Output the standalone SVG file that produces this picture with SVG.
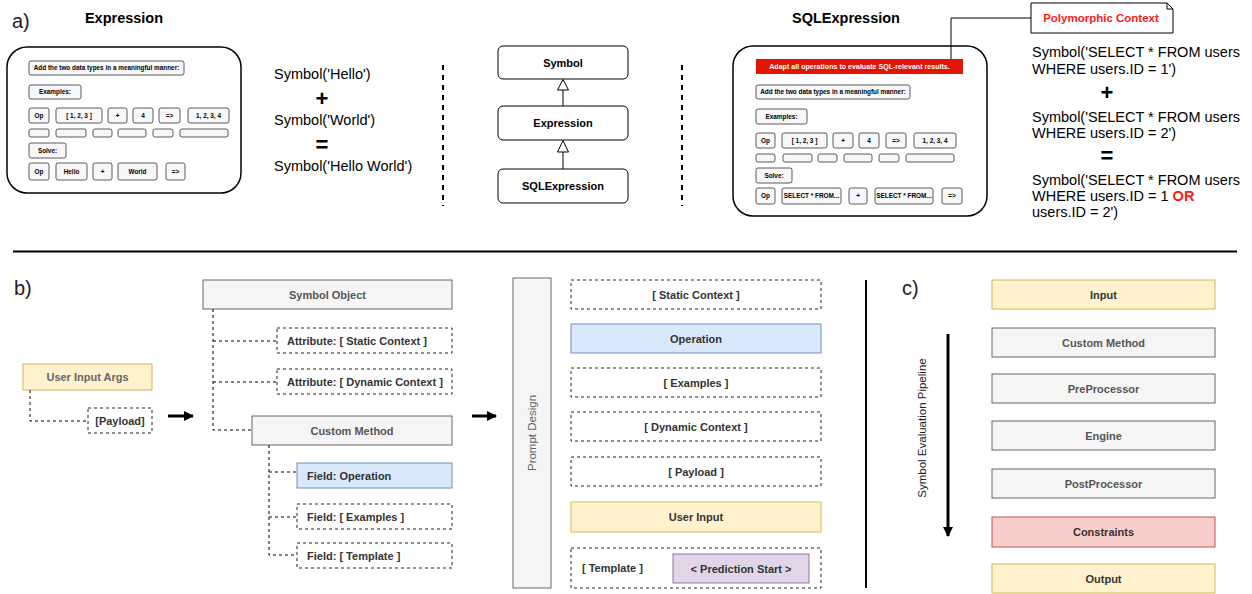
<svg xmlns="http://www.w3.org/2000/svg" width="1252" height="594" viewBox="0 0 1252 594">
<style>
text{font-family:"Liberation Sans",Arial,sans-serif}
.lbl{font-size:20px;fill:#222}
.title{font-size:14.5px;font-weight:bold;fill:#000;text-anchor:middle}
.big{fill:#fff;stroke:#000;stroke-width:1.5}
.sb{fill:#f7f7f7;stroke:#333;stroke-width:0.8}
.st{font-size:6.4px;font-weight:bold;fill:#000;text-anchor:middle}
.expr{font-size:14.5px;fill:#000}
.op{font-size:22px;font-weight:bold;fill:#000;text-anchor:middle}
.cls{fill:#fff;stroke:#000;stroke-width:1}
.ct{font-size:11px;font-weight:bold;fill:#000;text-anchor:middle}
.vdash{stroke:#000;stroke-width:2;stroke-dasharray:5 5;fill:none}
.gray{fill:#f5f5f5;stroke:#666;stroke-width:1}
.dash{fill:#fff;stroke:#222;stroke-width:1;stroke-dasharray:3 3}
.yel{fill:#fff2cc;stroke:#d6b656;stroke-width:1}
.blue{fill:#dae8fc;stroke:#6c8ebf;stroke-width:1}
.red{fill:#f8cecc;stroke:#b85450;stroke-width:1}
.pur{fill:#e1d5e7;stroke:#9673a6;stroke-width:1}
.bt{font-size:11px;font-weight:bold;fill:#333;text-anchor:middle}
.btl{font-size:11px;font-weight:bold;fill:#333}
.gt{font-size:11px;font-weight:bold;fill:#555;text-anchor:middle}
.dot{stroke:#000;stroke-width:1;stroke-dasharray:3 3;fill:none}
.thick{stroke:#000;stroke-width:3;fill:none}
</style>
<defs>
<marker id="ah" viewBox="0 0 10 10" refX="9" refY="5" markerWidth="3.3" markerHeight="3.3" orient="auto" markerUnits="strokeWidth">
<path d="M0,0 L10,5 L0,10 Z" fill="#000"/>
</marker>
</defs>

<!-- section labels -->
<text class="lbl" x="12" y="28">a)</text>
<text class="lbl" x="14" y="295">b)</text>
<text class="lbl" x="902" y="295">c)</text>
<line x1="13" y1="251.5" x2="1237" y2="251.5" stroke="#000" stroke-width="2"/>

<!-- a) Expression prompt box -->
<g id="expression-prompt">
<text class="title" x="124" y="23">Expression</text>
<rect class="big" x="7" y="47" width="234" height="146" rx="20"/>
<rect class="sb" x="29" y="61" width="155" height="14" rx="2"/><text class="st" x="106.5" y="70.2">Add the two data types in a meaningful manner:</text>
<rect class="sb" x="29" y="85" width="52" height="14" rx="2"/><text class="st" x="55" y="94.2">Examples:</text>
<rect class="sb" x="29" y="108" width="20" height="15" rx="2"/><text class="st" x="39" y="117.7">Op</text>
<rect class="sb" x="56" y="108" width="46" height="15" rx="2"/><text class="st" x="79" y="117.7">[ 1, 2, 3 ]</text>
<rect class="sb" x="108" y="108" width="19" height="15" rx="2"/><text class="st" x="117.5" y="117.7">+</text>
<rect class="sb" x="133" y="108" width="20" height="15" rx="2"/><text class="st" x="143" y="117.7">4</text>
<rect class="sb" x="159" y="108" width="21" height="15" rx="2"/><text class="st" x="169.5" y="117.7">=&gt;</text>
<rect class="sb" x="188" y="108" width="41" height="15" rx="2"/><text class="st" x="208.5" y="117.7">1, 2, 3, 4</text>
<rect class="sb" x="29" y="129" width="20" height="8" rx="2"/>
<rect class="sb" x="56" y="129" width="30" height="8" rx="2"/>
<rect class="sb" x="93" y="129" width="19" height="8" rx="2"/>
<rect class="sb" x="118" y="129" width="28" height="8" rx="2"/>
<rect class="sb" x="153" y="129" width="20" height="8" rx="2"/>
<rect class="sb" x="180" y="129" width="48" height="8" rx="2"/>
<rect class="sb" x="29" y="143" width="37" height="15" rx="2"/><text class="st" x="47.5" y="152.7">Solve:</text>
<rect class="sb" x="29" y="163" width="20" height="17" rx="2"/><text class="st" x="39" y="173.7">Op</text>
<rect class="sb" x="56" y="163" width="31" height="17" rx="2"/><text class="st" x="71.5" y="173.7">Hello</text>
<rect class="sb" x="93" y="163" width="19" height="17" rx="2"/><text class="st" x="102.5" y="173.7">+</text>
<rect class="sb" x="118" y="163" width="39" height="17" rx="2"/><text class="st" x="137.5" y="173.7">World</text>
<rect class="sb" x="166" y="163" width="19" height="17" rx="2"/><text class="st" x="175.5" y="173.7">=&gt;</text>
</g>

<g id="hello-world">
<text class="expr" x="274" y="79">Symbol('Hello')</text>
<text class="op" x="322" y="106">+</text>
<text class="expr" x="274" y="125">Symbol('World')</text>
<text class="op" x="322" y="152">=</text>
<text class="expr" x="274" y="171">Symbol('Hello World')</text>
</g>

<line class="vdash" x1="443" y1="65" x2="443" y2="206"/>
<line class="vdash" x1="682" y1="65" x2="682" y2="206"/>

<!-- class hierarchy -->
<g id="cls-symbol"><rect class="cls" x="498" y="46" width="130" height="33" rx="5"/><text class="ct" x="563" y="66.5">Symbol</text></g>
<g id="cls-expression"><rect class="cls" x="498" y="106" width="130" height="34" rx="5"/><text class="ct" x="563" y="127">Expression</text></g>
<g id="cls-sqlexpression"><rect class="cls" x="498" y="169" width="130" height="34" rx="5"/><text class="ct" x="563" y="190">SQLExpression</text></g>

<g id="inheritance">
<line x1="563" y1="90" x2="563" y2="106" stroke="#000" stroke-width="1"/>
<polygon points="563,79.5 557.5,90 568.5,90" fill="#fff" stroke="#000" stroke-width="1"/>
<line x1="563" y1="152" x2="563" y2="169" stroke="#000" stroke-width="1"/>
<polygon points="563,140.5 557.5,152 568.5,152" fill="#fff" stroke="#000" stroke-width="1"/>
</g>

<!-- a) SQLExpression prompt box -->
<g id="sql-prompt">
<text class="title" x="846" y="23">SQLExpression</text>
<rect class="big" x="733" y="46" width="254" height="170" rx="20"/>
<rect x="756" y="59" width="207" height="15" fill="#e51400"/><text class="st" x="859.5" y="69" style="fill:#fff;font-size:7.1px">Adapt all operations to evaluate SQL-relevant results.</text>
<rect class="sb" x="756" y="85" width="154" height="14" rx="2"/><text class="st" x="833" y="94.2">Add the two data types in a meaningful manner:</text>
<rect class="sb" x="756" y="109" width="51" height="15" rx="2"/><text class="st" x="781.5" y="118.7">Examples:</text>
<rect class="sb" x="756" y="133" width="19" height="15" rx="2"/><text class="st" x="765.5" y="142.7">Op</text>
<rect class="sb" x="782" y="133" width="45" height="15" rx="2"/><text class="st" x="804.5" y="142.7">[ 1, 2, 3 ]</text>
<rect class="sb" x="833" y="133" width="20" height="15" rx="2"/><text class="st" x="843" y="142.7">+</text>
<rect class="sb" x="859" y="133" width="20" height="15" rx="2"/><text class="st" x="869" y="142.7">4</text>
<rect class="sb" x="886" y="133" width="20" height="15" rx="2"/><text class="st" x="896" y="142.7">=&gt;</text>
<rect class="sb" x="914" y="133" width="42" height="15" rx="2"/><text class="st" x="935" y="142.7">1, 2, 3, 4</text>
<rect class="sb" x="756" y="154" width="19" height="8" rx="2"/>
<rect class="sb" x="783" y="154" width="29" height="8" rx="2"/>
<rect class="sb" x="818" y="154" width="19" height="8" rx="2"/>
<rect class="sb" x="844" y="154" width="28" height="8" rx="2"/>
<rect class="sb" x="879" y="154" width="20" height="8" rx="2"/>
<rect class="sb" x="906" y="154" width="48" height="8" rx="2"/>
<rect class="sb" x="756" y="168" width="36" height="15" rx="2"/><text class="st" x="774" y="177.7">Solve:</text>
<rect class="sb" x="756" y="188" width="19" height="16" rx="2"/><text class="st" x="765.5" y="198.2">Op</text>
<rect class="sb" x="782" y="188" width="59" height="16" rx="2"/><text class="st" x="811.5" y="198.2">SELECT * FROM...</text>
<rect class="sb" x="849" y="188" width="18" height="16" rx="2"/><text class="st" x="858" y="198.2">+</text>
<rect class="sb" x="875" y="188" width="58" height="16" rx="2"/><text class="st" x="904" y="198.2">SELECT * FROM...</text>
<rect class="sb" x="942" y="188" width="20" height="16" rx="2"/><text class="st" x="952" y="198.2">=&gt;</text>
</g>

<g id="polymorphic-context">
<path d="M1031,3 H1167 L1173,9 V33 H1031 Z" fill="#fff" stroke="#000" stroke-width="1"/>
<path d="M1167,3 V9 H1173" fill="none" stroke="#000" stroke-width="1"/>
<text x="1101" y="22" style="font-size:11.5px;font-weight:bold;fill:#ff1a1a;text-anchor:middle">Polymorphic Context</text>
</g>

<g id="sql-expr">
<text class="expr" x="1032" y="57">Symbol('SELECT * FROM users</text>
<text class="expr" x="1032" y="74">WHERE users.ID = 1')</text>
<text class="op" x="1107" y="100">+</text>
<text class="expr" x="1032" y="122">Symbol('SELECT * FROM users</text>
<text class="expr" x="1032" y="138">WHERE users.ID = 2')</text>
<text class="op" x="1107" y="163">=</text>
<text class="expr" x="1032" y="185">Symbol('SELECT * FROM users</text>
<text class="expr" x="1032" y="201">WHERE users.ID = 1 <tspan style="font-weight:bold;fill:#ff1a1a">OR</tspan></text>
<text class="expr" x="1032" y="217">users.ID = 2')</text>
</g>

<!-- b) -->
<g id="user-input-args"><rect class="yel" x="23" y="364" width="129" height="26"/><text class="bt" x="87.5" y="381" style="fill:#666">User Input Args</text></g>
<g id="payload"><rect class="dash" x="88" y="408" width="64" height="25"/><text class="bt" x="120" y="424.5">[Payload]</text></g>
<g id="symbol-object"><rect class="gray" x="203" y="280" width="249" height="29"/><text class="gt" x="327.5" y="298.5">Symbol Object</text></g>
<g id="attr-static"><rect class="dash" x="277" y="328" width="175" height="25"/><text class="btl" x="287" y="344.5">Attribute: [ Static Context ]</text></g>
<g id="attr-dynamic"><rect class="dash" x="277" y="369" width="175" height="25"/><text class="btl" x="287" y="385.5">Attribute: [ Dynamic Context ]</text></g>
<g id="custom-method-b"><rect class="gray" x="252" y="416" width="200" height="29"/><text class="gt" x="352" y="434.5">Custom Method</text></g>
<g id="field-operation"><rect class="blue" x="297" y="463" width="155" height="25"/><text class="btl" x="307" y="479.5">Field: Operation</text></g>
<g id="field-examples"><rect class="dash" x="297" y="504" width="155" height="25"/><text class="btl" x="307" y="520.5">Field: [ Examples ]</text></g>
<g id="field-template"><rect class="dash" x="297" y="543" width="155" height="25"/><text class="btl" x="307" y="559.5">Field: [ Template ]</text></g>

<g id="prompt-design"><rect class="gray" x="513" y="278" width="38" height="310"/><text x="536" y="433" transform="rotate(-90 536 433)" style="font-size:11.5px;fill:#666;text-anchor:middle">Prompt Design</text></g>
<g id="p-static"><rect class="dash" x="571" y="280" width="250" height="29"/><text class="bt" x="696" y="298.5">[ Static Context ]</text></g>
<g id="p-operation"><rect class="blue" x="571" y="324" width="250" height="29"/><text class="bt" x="696" y="342.5">Operation</text></g>
<g id="p-examples"><rect class="dash" x="571" y="368" width="250" height="29"/><text class="bt" x="696" y="386.5">[ Examples ]</text></g>
<g id="p-dynamic"><rect class="dash" x="571" y="412" width="250" height="29"/><text class="bt" x="696" y="430.5">[ Dynamic Context ]</text></g>
<g id="p-payload"><rect class="dash" x="571" y="457" width="250" height="29"/><text class="bt" x="696" y="475.5">[ Payload ]</text></g>
<g id="p-userinput"><rect class="yel" x="571" y="502" width="250" height="30"/><text class="bt" x="696" y="521">User Input</text></g>
<g id="p-template"><rect class="dash" x="571" y="548" width="250" height="40"/><text class="btl" x="582" y="572">[ Template ]</text></g>
<g id="p-prediction"><rect class="pur" x="673" y="554" width="136" height="29"/><text class="bt" x="741" y="572.5">&lt; Prediction Start &gt;</text></g>

<line x1="866" y1="280" x2="866" y2="588" stroke="#000" stroke-width="2"/>

<!-- c) -->
<g id="c-input"><rect class="yel" x="992" y="280" width="223" height="29"/><text class="bt" x="1103.5" y="298.5">Input</text></g>
<g id="c-custom"><rect class="gray" x="992" y="328" width="223" height="29"/><text class="gt" x="1103.5" y="346.5">Custom Method</text></g>
<g id="c-pre"><rect class="gray" x="992" y="374" width="223" height="29"/><text class="gt" x="1103.5" y="392.5">PreProcessor</text></g>
<g id="c-engine"><rect class="gray" x="992" y="421" width="223" height="29"/><text class="gt" x="1103.5" y="439.5">Engine</text></g>
<g id="c-post"><rect class="gray" x="992" y="469" width="223" height="29"/><text class="gt" x="1103.5" y="487.5">PostProcessor</text></g>
<g id="c-constraints"><rect class="red" x="992" y="517" width="223" height="30"/><text class="bt" x="1103.5" y="536">Constraints</text></g>
<g id="c-output"><rect class="yel" x="992" y="564" width="223" height="29"/><text class="bt" x="1103.5" y="582.5">Output</text></g>
<text x="926" y="428" transform="rotate(-90 926 428)" style="font-size:11.5px;fill:#222;text-anchor:middle">Symbol Evaluation Pipeline</text>

<g id="connectors">
<polyline class="dot" points="951,59 951,18 1031,18" style="stroke-dasharray:none"/>
<polyline class="dot" points="30,390 30,421 88,421"/>
<polyline class="dot" points="213,309 213,430 252,430"/>
<line class="dot" x1="213" y1="341" x2="277" y2="341"/>
<line class="dot" x1="213" y1="382" x2="277" y2="382"/>
<polyline class="dot" points="269,445 269,555 297,555"/>
<line class="dot" x1="269" y1="472" x2="297" y2="472"/>
<line class="dot" x1="269" y1="517" x2="297" y2="517"/>
<line class="thick" x1="168" y1="416" x2="193" y2="416" marker-end="url(#ah)"/>
<line class="thick" x1="472" y1="416" x2="496" y2="416" marker-end="url(#ah)"/>
<line class="thick" x1="948" y1="334" x2="948" y2="536" marker-end="url(#ah)"/>
</g>
</svg>
